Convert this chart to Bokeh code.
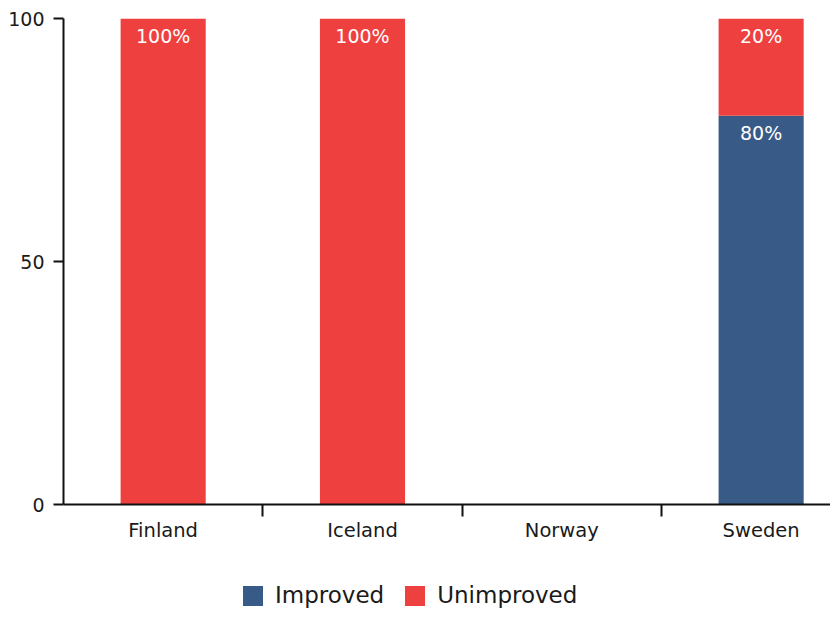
from bokeh.plotting import figure
from bokeh.layouts import column
from bokeh.models import (ColumnDataSource, Range1d, LinearAxis, FixedTicker,
                          Legend, LegendItem)
from bokeh.embed import file_html
from bokeh.resources import INLINE
from bokeh.core.properties import value

countries = ["Finland", "Iceland", "Norway", "Sweden"]
improved = [0, 0, 0, 80]
unimproved = [100, 100, 0, 20]
series = ["Improved", "Unimproved"]
colors = ["#385a87", "#ef4040"]
y_ticks = [0, 50, 100]

FONT = "DejaVu Sans"
TXT = "#1a1a1a"

xpos = [i + 0.5 for i in range(len(countries))]
src = ColumnDataSource(dict(x=xpos, Improved=improved, Unimproved=unimproved))

p = figure(width=830, height=560, output_backend="svg", toolbar_location=None,
           x_range=Range1d(0, 3.848), y_range=Range1d(0, 100),
           x_axis_type=None, y_axis_type=None,
           min_border_left=63, min_border_right=0, min_border_top=18,
           min_border_bottom=56)
p.outline_line_color = None
p.xgrid.visible = False
p.ygrid.visible = False

r = p.vbar_stack(series, x="x", width=0.427, color=colors, source=src,
                 line_color=None)

# value labels
lx, ly, lt = [], [], []
for i, x in enumerate(xpos):
    base = 0
    for vals in (improved, unimproved):
        v = vals[i]
        if v > 0:
            lx.append(x)
            ly.append(base + v)
            lt.append(f"{v}%")
        base += v
p.text(x=lx, y=ly, text=lt, text_color="white", text_align="center",
       text_baseline="top", y_offset=6, text_font=value(FONT),
       text_font_size="19px")

# axes
yax = LinearAxis(ticker=FixedTicker(ticks=y_ticks))
yax.axis_line_width = 2
yax.axis_line_color = "#111111"
yax.major_tick_line_width = 2
yax.major_tick_line_color = "#111111"
yax.major_tick_out = 10
yax.major_tick_in = 0
yax.minor_tick_out = 0
yax.major_label_standoff = 9
yax.major_label_text_font = FONT
yax.major_label_text_font_size = "19px"
yax.major_label_text_color = TXT
p.add_layout(yax, "left")

xax = LinearAxis(ticker=FixedTicker(ticks=xpos, minor_ticks=[1, 2, 3]))
xax.major_label_overrides = {x: c for x, c in zip(xpos, countries)}
xax.axis_line_width = 2
xax.axis_line_color = "#111111"
xax.major_tick_out = 0
xax.major_tick_in = 0
xax.minor_tick_out = 12
xax.minor_tick_in = 0
xax.minor_tick_line_width = 2
xax.minor_tick_line_color = "#111111"
xax.major_label_standoff = 2
xax.major_label_text_font = FONT
xax.major_label_text_font_size = "19.5px"
xax.major_label_text_color = TXT
p.add_layout(xax, "below")

# legend strip underneath (hidden copies of the bar renderers supply swatches)
q = figure(width=830, height=57, output_backend="svg", toolbar_location=None,
           x_range=Range1d(0, 1), y_range=Range1d(0, 1),
           x_axis_type=None, y_axis_type=None,
           min_border_left=0, min_border_right=0, min_border_top=0,
           min_border_bottom=0)
q.outline_line_color = None
q.xgrid.visible = False
q.ygrid.visible = False
swatches = q.vbar_stack(series, x="x", width=0.427, color=colors, source=src,
                        line_color=None, visible=False)

legend = Legend(items=[LegendItem(label=s, renderers=[rr]) for s, rr in zip(series, swatches)],
                orientation="horizontal", location=(177, 9),
                glyph_width=25, glyph_height=25, label_height=20,
                label_standoff=10, spacing=18, padding=0, margin=0,
                border_line_color=None, background_fill_alpha=0,
                label_text_font=FONT, label_text_font_size="23px",
                label_text_color=TXT)
q.add_layout(legend, "center")

layout = column(p, q, spacing=0)
open("out.html", "w").write(file_html(layout, INLINE))
